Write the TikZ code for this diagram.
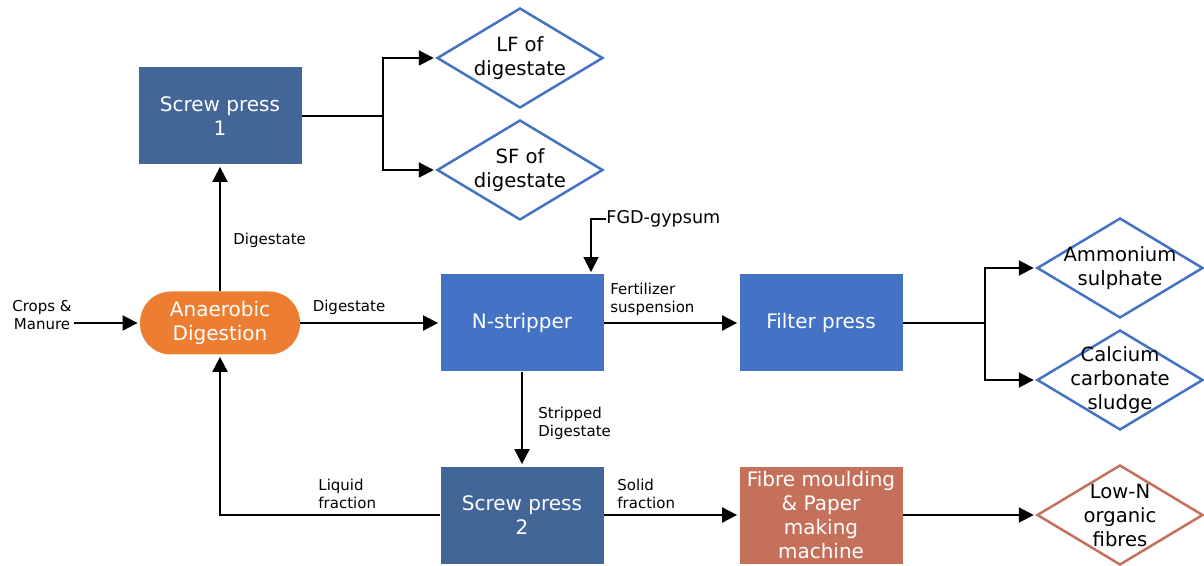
\documentclass[tikz,border=0pt]{standalone}
\usepackage{fontspec}
\setmainfont{DejaVu Sans}
\usetikzlibrary{shapes.geometric,arrows.meta}
\definecolor{dblue}{HTML}{436699}
\definecolor{mblue}{HTML}{4472C4}
\definecolor{orng}{HTML}{ED7D31}
\definecolor{brwn}{HTML}{C5705A}
\begin{document}
\begin{tikzpicture}[x=0.5pt,y=-0.5pt,
 box/.style={rectangle, minimum width=81.5pt, minimum height=48.5pt, text=white, font=\fontsize{10}{12}\selectfont, align=center, inner sep=0pt},
 dia/.style={diamond, draw=mblue, line width=1.25pt, minimum width=83pt, minimum height=50pt, inner sep=0pt},
 dlab/.style={font=\fontsize{9.8}{12}\selectfont, align=center, text=black},
 lab/.style={font=\fontsize{7.5}{9}\selectfont, align=left, inner sep=0pt},
 arr/.style={-{Triangle[length=7.5pt,width=7.5pt]}, line width=1pt, shorten >=1pt},
 ln/.style={line width=1pt}]
\useasboundingbox (0,0) rectangle (1204,566);

% nodes
\node[box, fill=orng, rounded corners=15.5pt, minimum width=80pt, minimum height=31.5pt] (ad) at (220,323) {Anaerobic\\Digestion};
\node[box, fill=dblue] (sp1) at (220,116) {Screw press\\1};
\node[dia, label={[dlab]center:{LF of\\digestate}}] (lf) at (520,58) {};
\node[dia, label={[dlab]center:{SF of\\digestate}}] (sf) at (520,170) {};
\node[box, fill=mblue] (ns) at (522,323) {N-stripper};
\node[box, fill=mblue] (fp) at (821,323) {Filter press};
\node[dia, label={[dlab]center:{Ammonium\\sulphate}}] (as) at (1120,268) {};
\node[dia, label={[dlab]center:{Calcium\\carbonate\\sludge}}] (cc) at (1120,380) {};
\node[box, fill=dblue] (sp2) at (522,515) {Screw press\\2};
\node[box, fill=brwn] (fm) at (821,515) {Fibre moulding\\\&~Paper\\making\\machine};
\node[dia, draw=brwn, label={[dlab]center:{Low-N\\organic\\fibres}}] (ln) at (1120,515) {};

% labels
\node[lab, align=center] (crops) at (42,315) {Crops \&\\Manure};
\coordinate (cropsend) at (74,323);
\node[lab, anchor=west] (dg1) at (233,240) {Digestate};
\node[lab] (dg2) at (349,307) {Digestate};
\node[lab, anchor=west, font=\fontsize{8.8}{10}\selectfont] (fgd) at (606,219) {FGD-gypsum};
\coordinate (fgdc) at (591,219);
\node[lab, anchor=west] (fert) at (610,299) {Fertilizer\\suspension};
\node[lab, anchor=west] (strip) at (538,423) {Stripped\\Digestate};
\node[lab, anchor=west] (liq) at (318,494) {Liquid\\fraction};
\node[lab, anchor=west] (sol) at (617,494) {Solid\\fraction};

% connectors
\draw[arr] (cropsend) -- (ad.west);
\draw[arr] (ad.north) -- (sp1.south);
\coordinate (b1) at (383,116);
\draw[ln] (sp1.east) -- (b1);
\draw[arr] (b1) |- (lf.west);
\draw[arr] (b1) |- (sf.west);
\draw[arr] (ad.east) -- (ns.west);
\draw[arr, line width=0.7pt] (fgd.west) -- (fgdc) -- (fgdc |- ns.north);
\draw[arr] (ns.east) -- (fp.west);
\coordinate (b2) at (985,323);
\draw[ln] (fp.east) -- (b2);
\draw[arr] (b2) |- (as.west);
\draw[arr] (b2) |- (cc.west);
\draw[arr] (ns.south) -- (sp2.north);
\draw[arr] (sp2.west) -| (ad.south);
\draw[arr] (sp2.east) -- (fm.west);
\draw[arr] (fm.east) -- (ln.west);
\end{tikzpicture}
\end{document}
